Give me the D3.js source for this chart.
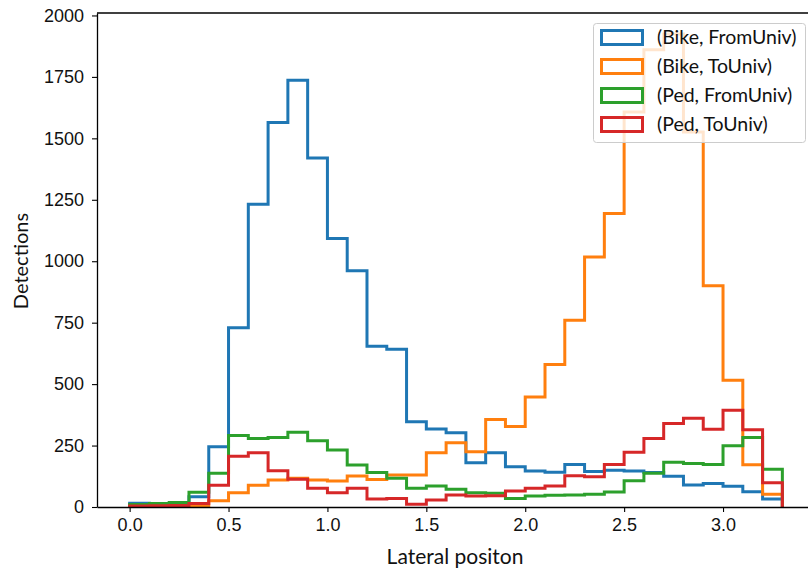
<!DOCTYPE html>
<html>
<head>
<meta charset="utf-8">
<script src="https://cdn.jsdelivr.net/npm/d3@7/dist/d3.min.js"></script>
<style>
  html, body { margin: 0; padding: 0; background: #fff; }
  svg { display: block; font-family: Lato, "Open Sans", sans-serif; }
</style>
</head>
<body>
<svg id="chart" width="808" height="575"></svg>
<script>
// Histogram bins: 33 bins of width 0.1 from 0.0 to 3.3
const binStart = 0.0;
const binWidth = 0.1;

const seriesNames = ["(Bike, FromUniv)", "(Bike, ToUniv)", "(Ped, FromUniv)", "(Ped, ToUniv)"];
const seriesColors = ["#1f77b4", "#ff7f0e", "#2ca02c", "#d62728"];

// Counts per bin
const bikeFromUniv = [15, 14, 12, 42, 245, 729, 1232, 1564, 1736, 1420, 1092, 961, 654, 642, 347, 317, 302,
  180, 221, 164, 146, 141, 173, 144, 150, 146, 140, 125, 90, 96, 84, 62, 33];
const bikeToUniv = [2, 2, 3, 5, 25, 58, 89, 110, 117, 110, 106, 126, 112, 130, 130, 221, 261,
  225, 356, 328, 448, 580, 760, 1017, 1194, 1607, 1860, 1925, 1526, 900, 516, 172, 52];
const pedFromUniv = [10, 14, 18, 60, 137, 291, 279, 283, 304, 270, 232, 171, 140, 117, 76, 85, 72,
  58, 56, 35, 45, 48, 49, 52, 61, 107, 137, 182, 177, 173, 249, 283, 154];
const pedToUniv = [4, 5, 6, 14, 88, 207, 221, 148, 113, 76, 58, 76, 33, 35, 11, 28, 49,
  45, 46, 65, 76, 85, 127, 123, 173, 223, 279, 340, 361, 316, 394, 314, 99];

const seriesValues = [bikeFromUniv, bikeToUniv, pedFromUniv, pedToUniv];

const xTicks = [0.0, 0.5, 1.0, 1.5, 2.0, 2.5, 3.0];
const yTicks = [0, 250, 500, 750, 1000, 1250, 1500, 1750, 2000];

const svg = d3.select("#chart");
const margin = { left: 97, top: 13, bottom: 507, right: 815 };

const x = d3.scaleLinear().domain([-0.165, 3.465]).range([margin.left, margin.right]);
const y = d3.scaleLinear().domain([0, 2010]).range([margin.bottom, margin.top]);

svg.append("defs").append("clipPath").attr("id", "plotclip")
  .append("rect")
  .attr("x", margin.left).attr("y", margin.top)
  .attr("width", margin.right - margin.left).attr("height", margin.bottom - margin.top);

// Step outlines
const plot = svg.append("g").attr("clip-path", "url(#plotclip)");
seriesValues.forEach((vals, i) => {
  const pts = [[binStart, 0]];
  vals.forEach((v, k) => {
    const x0 = binStart + k * binWidth;
    pts.push([x0, v], [x0 + binWidth, v]);
  });
  pts.push([binStart + vals.length * binWidth, 0]);
  plot.append("path")
    .attr("d", d3.line().x(d => x(d[0])).y(d => y(d[1]))(pts))
    .attr("fill", "none")
    .attr("stroke", seriesColors[i])
    .attr("stroke-width", 3)
    .attr("stroke-linejoin", "miter");
});

// Axes
const xAxis = svg.append("g")
  .attr("transform", `translate(0,${margin.bottom})`)
  .call(d3.axisBottom(x).tickValues(xTicks).tickFormat(d3.format(".1f")).tickSize(5).tickPadding(6).tickSizeOuter(0));
const yAxis = svg.append("g")
  .attr("transform", `translate(${margin.left},0)`)
  .call(d3.axisLeft(y).tickValues(yTicks).tickFormat(d3.format("d")).tickSize(5).tickPadding(8).tickSizeOuter(0));

[xAxis, yAxis].forEach(a => {
  a.select(".domain").attr("stroke", "#000").attr("stroke-width", 1.3);
  a.selectAll(".tick line").attr("stroke", "#000").attr("stroke-width", 1.1);
  a.selectAll(".tick text").attr("fill", "#111").style("font-size", "18px");
});

// Top and right spines
svg.append("line")
  .attr("x1", margin.left).attr("x2", margin.right)
  .attr("y1", margin.top).attr("y2", margin.top)
  .attr("stroke", "#000").attr("stroke-width", 1.3);
svg.append("line")
  .attr("x1", margin.right).attr("x2", margin.right)
  .attr("y1", margin.top).attr("y2", margin.bottom)
  .attr("stroke", "#000").attr("stroke-width", 1.3);

// Axis titles
svg.append("text")
  .attr("x", 455).attr("y", 564)
  .attr("text-anchor", "middle")
  .style("font-size", "21px").attr("fill", "#111")
  .text("Lateral positon");
svg.append("text")
  .attr("transform", "translate(28,261) rotate(-90)")
  .attr("text-anchor", "middle")
  .style("font-size", "20px").attr("fill", "#111")
  .text("Detections");

// Legend
const legend = svg.append("g");
legend.append("rect")
  .attr("x", 593.5).attr("y", 23.5).attr("width", 212).attr("height", 119)
  .attr("rx", 3).attr("ry", 3)
  .attr("fill", "#fff").attr("fill-opacity", 0.8)
  .attr("stroke", "#cccccc").attr("stroke-width", 1);
seriesNames.forEach((name, i) => {
  const cy = 37.5 + i * 29;
  legend.append("rect")
    .attr("x", 601.5).attr("y", cy - 7).attr("width", 41).attr("height", 14)
    .attr("fill", "none").attr("stroke", seriesColors[i]).attr("stroke-width", 3);
  legend.append("text")
    .attr("x", 657).attr("y", cy + 6.5)
    .style("font-size", "19.5px").attr("fill", "#111")
    .text(name);
});
</script>
</body>
</html>
